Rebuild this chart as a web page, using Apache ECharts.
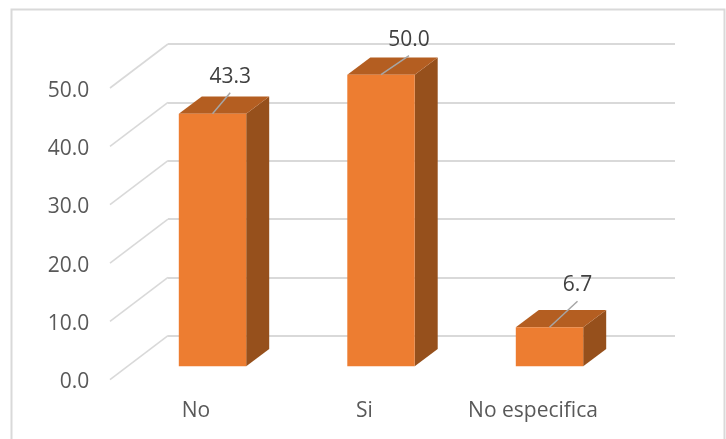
<!DOCTYPE html>
<html>
<head>
<meta charset="utf-8">
<style>html,body{margin:0;padding:0;background:#fff;overflow:hidden}#c{width:726px;height:439px}</style>
<script src="https://cdn.jsdelivr.net/npm/echarts@6/dist/echarts.min.js"></script>
</head>
<body>
<div id="c"></div>
<script>
const categories = ['No', 'Si', 'No especifica'];
const values = [43.3, 50.0, 6.7];
const yTicks = [0, 10, 20, 30, 40, 50];

const FONT = '"Open Sans", "Noto Sans", sans-serif';
const FONT_SIZE = 21;
const depth = { x: 23, y: 17.3 };
const wall = { x: 58, y: 44 };
const labelShift = [[17.7, 37, 21], [28, 35, 19], [28, 42.5, 26]]; // dx, dy of label, leader rise

const chart = echarts.init(document.getElementById('c'), null, { renderer: 'canvas' });

const valueAxisBase = { type: 'value', min: 0, max: 50, interval: 10 };
const catAxisBase = { type: 'category', data: categories };

chart.setOption({
  animation: false,
  backgroundColor: '#fff',
  tooltip: { show: false },
  graphic: [{
    type: 'rect', silent: true, z: -1,
    shape: { x: 11.5, y: 9.5, width: 713, height: 445 },
    style: { fill: '#fff', stroke: '#D9D9D9', lineWidth: 2 }
  }],
  grid: [
    { left: 168, top: 44, width: 507, height: 291.7 },       // back wall
    { left: 111.75, top: 90.6, width: 505.5, height: 291.7 }, // front edge, carries axis labels
    { left: 128.25, top: 74.7, width: 505.5, height: 291.6 }  // bar front plane
  ],
  xAxis: [
    Object.assign({}, catAxisBase, { gridIndex: 0, show: false }),
    Object.assign({}, catAxisBase, {
      gridIndex: 1,
      axisLine: { show: false }, axisTick: { show: false },
      axisLabel: { color: '#595959', fontFamily: FONT, fontSize: FONT_SIZE, margin: 18.7, interval: 0 }
    }),
    Object.assign({}, catAxisBase, { gridIndex: 2, show: false })
  ],
  yAxis: [
    Object.assign({}, valueAxisBase, {
      gridIndex: 0,
      axisLine: { show: false }, axisTick: { show: false }, axisLabel: { show: false },
      splitLine: { show: true, lineStyle: { color: '#D9D9D9', width: 2 } }
    }),
    Object.assign({}, valueAxisBase, {
      gridIndex: 1,
      axisLine: { show: false }, axisTick: { show: false },
      splitLine: { show: false },
      axisLabel: {
        color: '#595959', fontFamily: FONT, fontSize: FONT_SIZE, margin: 22.5,
        formatter: v => v.toFixed(1)
      }
    }),
    Object.assign({}, valueAxisBase, { gridIndex: 2, show: false })
  ],
  series: [
    {
      type: 'custom', xAxisIndex: 0, yAxisIndex: 0, silent: true, clip: false, z: 1,
      data: yTicks.map(t => [0, t]),
      renderItem(params, api) {
        const y = api.coord([0, api.value(1)])[1];
        return {
          type: 'line',
          shape: { x1: 168, y1: y, x2: 168 - wall.x, y2: y + wall.y },
          style: { stroke: '#D9D9D9', lineWidth: 1.6 }
        };
      }
    },
    {
      type: 'custom', xAxisIndex: 2, yAxisIndex: 2, silent: true, clip: false, z: 3,
      data: values.map((v, i) => [i, v]),
      renderItem(params, api) {
        const i = api.value(0), v = api.value(1);
        const top = api.coord([i, v]);
        const base = api.coord([i, 0]);
        const w = api.size([1, 0])[0] * 0.4;
        const l = top[0] - w / 2, r = top[0] + w / 2;
        const t = top[1], b = base[1];
        const d = depth, s = labelShift[params.dataIndex];
        return {
          type: 'group',
          children: [
            { type: 'polygon', shape: { points: [[r, t], [r + d.x, t - d.y], [r + d.x, b - d.y], [r, b]] }, style: { fill: '#96501C' } },
            { type: 'polygon', shape: { points: [[l, t], [l + d.x, t - d.y], [r + d.x, t - d.y], [r, t]] }, style: { fill: '#B45E21' } },
            { type: 'rect', shape: { x: l, y: t, width: r - l, height: b - t }, style: { fill: '#ED7D31' } },
            { type: 'line', shape: { x1: top[0], y1: t, x2: top[0] + s[0], y2: t - s[2] }, style: { stroke: '#A6A6A6', lineWidth: 1.5 } },
            { type: 'text', style: { x: top[0] + s[0], y: t - s[1], text: v.toFixed(1), fill: '#404040', font: FONT_SIZE + 'px ' + FONT, align: 'center', verticalAlign: 'middle' } }
          ]
        };
      }
    }
  ]
});
</script>
</body>
</html>
